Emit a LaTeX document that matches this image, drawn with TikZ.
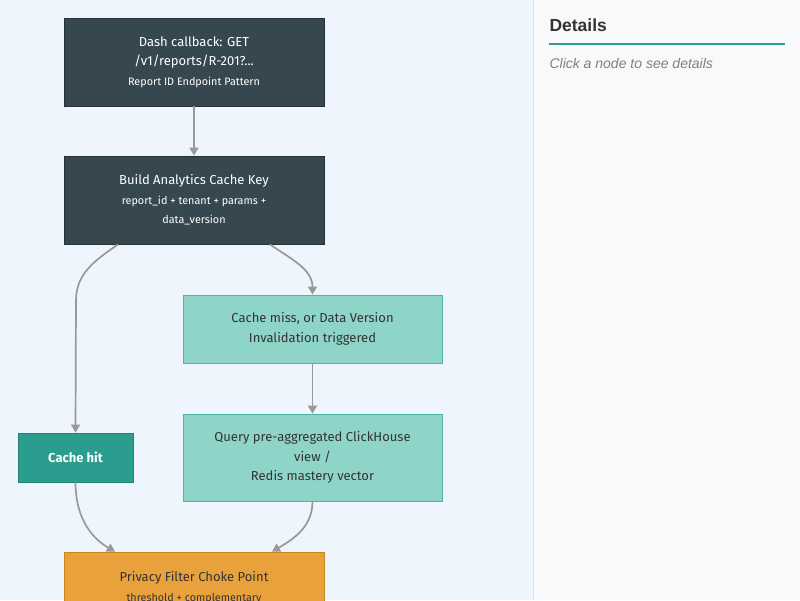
\documentclass[tikz,border=0pt]{standalone}
\usepackage{fontspec}
\setmainfont{Fira Sans}
\newfontfamily\panelfont{Liberation Sans}
\usetikzlibrary{arrows.meta}
\usepackage{xcolor}
\definecolor{canvasbg}{HTML}{EEF5FD}
\definecolor{panelbg}{HTML}{F7F9FB}
\definecolor{panelrule}{HTML}{DCE4EC}
\definecolor{slate}{HTML}{37474F}
\definecolor{slateline}{HTML}{263238}
\definecolor{mint}{HTML}{8FD4C8}
\definecolor{mintline}{HTML}{4DB6A6}
\definecolor{teal}{HTML}{2A9D8F}
\definecolor{tealline}{HTML}{1F8275}
\definecolor{amber}{HTML}{E9A23B}
\definecolor{amberline}{HTML}{C8851F}
\definecolor{wire}{HTML}{999999}
\newcommand{\subline}[1]{{\fontsize{10.8}{19.5}\selectfont #1}}

\begin{document}
\begin{tikzpicture}[x=1pt,y=1pt]

\tikzset{box/.style = {shape=rectangle,draw,line width=0.8pt,align=center,
  font=\fontsize{13}{19.5}\selectfont}}
\tikzset{darkbox/.style = {box,fill=slate,draw=slateline,text=white,minimum width=260pt,minimum height=88pt}}
\tikzset{mintbox/.style = {box,fill=mint,draw=mintline,text=black!80,minimum width=259pt}}
\tikzset{edge/.style = {draw=wire,line width=1.7pt,-{Triangle[length=8pt,width=9pt]}}}

\useasboundingbox (0,0) rectangle (800,600);
\clip (0,0) rectangle (800,600);
\fill[canvasbg] (0,0) rectangle (533,600);
\fill[panelbg] (533,0) rectangle (800,600);
\draw[panelrule,line width=1pt] (533.5,0) -- (533.5,600);

\node[darkbox] (dash) at (194,538) {Dash callback: GET\\ /v1/reports/R-201?...\\ \subline{Report ID Endpoint Pattern}};
\node[darkbox] (key) at (194,400) {Build Analytics Cache Key\\ \subline{report\_id + tenant + params +}\\ \subline{data\_version}};
\node[mintbox,minimum height=68pt] (miss) at (312.5,271) {Cache miss, or Data Version\\ Invalidation triggered};
\node[mintbox,minimum height=87pt] (query) at (312.5,142.5) {Query pre-aggregated ClickHouse\\ view /\\ Redis mastery vector};
\node[box,fill=teal,draw=tealline,text=white,minimum width=115pt,minimum height=49pt,
  font=\fontsize{13}{19.5}\selectfont\bfseries] (hit) at (75.5,142.5) {Cache hit};
\node[box,fill=amber,draw=amberline,text=black!80,minimum width=260pt,minimum height=71pt] (privacy) at (194,12.5)
  {Privacy Filter Choke Point\\ \subline{threshold + complementary}};

%edges
\draw[edge] (dash) -- (key);
\draw[edge] ([xshift=-76pt]key.south) to[out=-145,in=90] ++(-42,-56) -- (hit.north);
\draw[edge] ([xshift=76pt]key.south) to[out=-35,in=90] (miss.north);
\draw[edge] (miss) -- (query);
\draw[edge] (hit.south) to[out=-90,in=150] ([xshift=-79pt]privacy.north);
\draw[edge] (query.south) to[out=-90,in=30] ([xshift=78pt]privacy.north);

%details panel
\node[anchor=west,font=\panelfont\fontsize{17.5}{20}\selectfont\bfseries,text=black!80] (title) at (546,575) {Details};
\draw[teal,line width=2pt] (549,556) -- (785,556);
\node[anchor=west,font=\panelfont\fontsize{14}{16}\selectfont\itshape,text=black!50] (hint) at (546,536) {Click a node to see details};
\end{tikzpicture}
\end{document}
